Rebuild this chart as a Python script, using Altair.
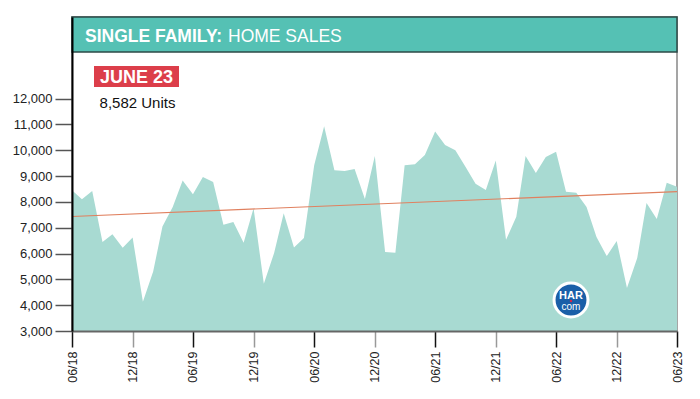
import altair as alt
import pandas as pd

# ---------------- data ----------------
months = pd.date_range("2018-06-01", periods=61, freq="MS").strftime("%Y-%m-%d").tolist()
sales = [
    8450, 8100, 8420, 6450, 6750, 6220, 6620, 4130, 5300, 7050,
    7800, 8830, 8300, 8960, 8770, 7110, 7220, 6420, 7750, 4830,
    6020, 7560, 6230, 6600, 9420, 10930, 9230, 9200, 9270, 8110,
    9780, 6060, 6030, 9420, 9460, 9820, 10730, 10200, 10000, 9350,
    8700, 8460, 9600, 6530, 7420, 9780, 9120, 9740, 9940, 8390,
    8350, 7800, 6640, 5900, 6490, 4670, 5830, 7960, 7340, 8740,
    8582,
]
y_ticks = [3000, 4000, 5000, 6000, 7000, 8000, 9000, 10000, 11000, 12000]
x_ticks = ["2018-06", "2018-12", "2019-06", "2019-12", "2020-06", "2020-12",
           "2021-06", "2021-12", "2022-06", "2022-12", "2023-06"]
title_bold = "SINGLE FAMILY:"
title_rest = "HOME SALES"
badge_text = "JUNE 23"
units_text = "8,582 Units"

df = pd.DataFrame({"date": months, "sales": sales})
one = pd.DataFrame({"k": [0]})

W, H = 605, 314
SANS = "Liberation Sans, Arial, sans-serif"


def dt(s):
    y, m = s.split("-")
    return alt.DateTime(year=int(y), month=int(m), date=1, utc=True)


x_enc = alt.X(
    "date:T",
    title=None,
    scale=alt.Scale(type="utc", domain=[dt(x_ticks[0]), dt(x_ticks[-1])]),
    axis=alt.Axis(
        values=[dt(s) for s in x_ticks],
        format="%m/%y",
        labelAngle=270,
        tickSize=16,
        tickWidth=1.5,
        tickColor={"condition": {"test": "utcmonth(datum.value) == 5", "value": "#111111"},
                   "value": "#999999"},
        labelPadding=4,
        labelFont=SANS,
        labelFontSize=12.5,
        labelColor="#222222",
        labelOverlap=False,
        labelBound=False,
        domainColor="#666666",
        domainWidth=2,
        grid=False,
        zindex=1,
    ),
)
y_enc = alt.Y(
    "sales:Q",
    title=None,
    stack=None,
    scale=alt.Scale(domain=[3000, 15160], zero=False, nice=False),
    axis=alt.Axis(
        values=y_ticks,
        format=",.0f",
        tickSize=17,
        tickWidth=1.5,
        tickColor="#555555",
        labelPadding=3,
        labelFont=SANS,
        labelFontSize=13,
        labelColor="#222222",
        labelOverlap=False,
        domainColor="#000000",
        domainWidth=2,
        grid=False,
        zindex=1,
    ),
)

base = alt.Chart(df)
area = base.mark_area(color="#a8dad2", opacity=1).encode(x=x_enc, y=y_enc)
trend = base.transform_regression("date", "sales").mark_line(
    color="#e0805f", strokeWidth=1.2
).encode(x=x_enc, y=y_enc)

header = alt.Chart(one).mark_rect(
    fill="#55c1b4", stroke="#2c4a47", strokeWidth=1.5
).encode(x=alt.value(0), x2=alt.value(W), y=alt.value(0), y2=alt.value(35))
t_bold = alt.Chart(one).mark_text(
    text=title_bold, align="left", baseline="alphabetic", font=SANS,
    fontSize=17.5, fontWeight="bold", color="white"
).encode(x=alt.value(13), y=alt.value(24.5))
t_rest = alt.Chart(one).mark_text(
    text=title_rest, align="left", baseline="alphabetic", font=SANS,
    fontSize=17.5, color="white"
).encode(x=alt.value(156), y=alt.value(24.5))

badge = alt.Chart(one).mark_rect(fill="#dc3e4a").encode(
    x=alt.value(22), x2=alt.value(107), y=alt.value(49), y2=alt.value(70)
)
badge_t = alt.Chart(one).mark_text(
    text=badge_text, align="center", baseline="alphabetic", font=SANS,
    fontSize=18, fontWeight="bold", color="white"
).encode(x=alt.value(64.5), y=alt.value(66))
units_t = alt.Chart(one).mark_text(
    text=units_text, align="center", baseline="alphabetic", font=SANS,
    fontSize=15, color="#111111"
).encode(x=alt.value(65.5), y=alt.value(91))

logo = alt.Chart(one).mark_point(
    filled=True, shape="circle", size=1150, fill="#1a5fa8", stroke="white",
    strokeWidth=3, opacity=1
).encode(x=alt.value(499), y=alt.value(283))
logo_har = alt.Chart(one).mark_text(
    text="HAR", align="center", baseline="alphabetic", font=SANS,
    fontSize=11, fontWeight="bold", color="white"
).encode(x=alt.value(499), y=alt.value(282))
logo_dot = alt.Chart(one).mark_point(
    filled=True, shape="circle", size=6, fill="#d3284b", opacity=1
).encode(x=alt.value(499), y=alt.value(284))
logo_com = alt.Chart(one).mark_text(
    text="com", align="center", baseline="alphabetic", font=SANS,
    fontSize=10, color="white"
).encode(x=alt.value(499), y=alt.value(293))

chart = alt.layer(
    area, trend, header, t_bold, t_rest, badge, badge_t, units_t,
    logo, logo_har, logo_dot, logo_com
).properties(
    width=W, height=H,
    autosize=alt.AutoSizeParams(type="none"),
    padding={"left": 64, "top": 9, "right": 15, "bottom": 60},
    background="white",
).configure_view(stroke="#888888", strokeWidth=1.5)

chart.save("out.html", embed_options={"renderer": "svg", "actions": False})
